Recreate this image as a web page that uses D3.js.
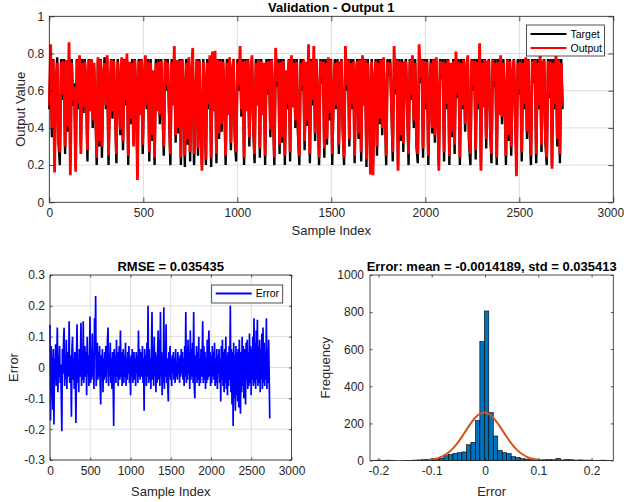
<!DOCTYPE html>
<html><head><meta charset="utf-8">
<script src="https://cdn.jsdelivr.net/npm/d3@7"></script>
<style>
html,body{margin:0;padding:0;background:#fff;}
svg{display:block;font-family:"Liberation Sans",Arial,Helvetica,sans-serif;}
</style></head><body>
<svg id="chart" width="624" height="502"></svg>
<script>
// ---- data (every 7th sample) ----
const sampleStep = 7;
const target = [0.50,0.77,0.35,0.77,0.22,0.60,0.78,0.32,0.20,0.77,
0.55,0.77,0.26,0.70,0.38,0.78,0.21,0.77,0.52,0.64,
0.20,0.77,0.50,0.77,0.30,0.77,0.48,0.77,0.60,0.22,
0.77,0.50,0.77,0.40,0.72,0.55,0.20,0.77,0.30,0.77,
0.24,0.66,0.78,0.50,0.77,0.20,0.58,0.77,0.45,0.77,
0.50,0.21,0.77,0.62,0.36,0.77,0.28,0.77,0.52,0.77,
0.20,0.70,0.42,0.77,0.36,0.77,0.55,0.19,0.77,0.50,
0.77,0.26,0.64,0.77,0.50,0.77,0.22,0.77,0.33,0.68,
0.20,0.77,0.52,0.77,0.42,0.77,0.50,0.25,0.77,0.60,
0.77,0.48,0.20,0.77,0.55,0.77,0.32,0.72,0.37,0.77,
0.20,0.77,0.58,0.19,0.77,0.31,0.77,0.22,0.66,0.77,
0.20,0.50,0.77,0.25,0.77,0.40,0.20,0.77,0.62,0.20,
0.77,0.50,0.77,0.19,0.70,0.52,0.77,0.21,0.77,0.34,
0.77,0.38,0.77,0.55,0.20,0.77,0.50,0.77,0.28,0.68,
0.77,0.33,0.22,0.77,0.60,0.77,0.46,0.77,0.20,0.77,
0.52,0.77,0.30,0.66,0.77,0.39,0.21,0.77,0.55,0.77,
0.24,0.77,0.50,0.72,0.20,0.77,0.58,0.77,0.35,0.77,
0.50,0.20,0.77,0.62,0.77,0.26,0.77,0.32,0.77,0.20,
0.68,0.50,0.77,0.22,0.77,0.54,0.77,0.40,0.77,0.36,
0.20,0.77,0.60,0.77,0.28,0.70,0.41,0.77,0.21,0.77,
0.52,0.77,0.33,0.77,0.50,0.20,0.77,0.64,0.77,0.24,
0.77,0.31,0.77,0.44,0.77,0.20,0.56,0.77,0.50,0.77,
0.26,0.72,0.77,0.38,0.20,0.77,0.60,0.77,0.30,0.77,
0.50,0.77,0.21,0.66,0.77,0.34,0.77,0.22,0.77,0.55,
0.77,0.19,0.77,0.50,0.20,0.77,0.20,0.62,0.77,0.25,
0.77,0.42,0.77,0.36,0.77,0.52,0.20,0.77,0.68,0.77,
0.50,0.22,0.77,0.58,0.77,0.20,0.77,0.33,0.77,0.27,
0.70,0.77,0.50,0.20,0.77,0.55,0.77,0.40,0.77,0.30,
0.21,0.77,0.64,0.77,0.24,0.77,0.50,0.77,0.20,0.60,
0.77,0.37,0.77,0.32,0.77,0.52,0.20,0.77,0.66,0.77,
0.22,0.77,0.50,0.77,0.20,0.72,0.35,0.77,0.26,0.77,
0.56,0.77,0.20,0.77,0.50,0.77,0.38,0.68,0.77,0.31,
0.20,0.77,0.60,0.77,0.23,0.77,0.50,0.77,0.20,0.77,
0.54,0.77,0.29,0.70,0.77,0.39,0.21,0.77,0.62,0.77,
0.20,0.77,0.50,0.77,0.42,0.77,0.55,0.20,0.77,0.33,
0.77,0.25,0.66,0.77,0.50,0.20,0.77,0.58,0.77,0.22,
0.77,0.50,0.77,0.34,0.77,0.40,0.20,0.77,0.64,0.77,
0.21,0.77,0.50,0.77,0.27,0.72,0.77,0.32,0.20,0.77,
0.56,0.77,0.20,0.77,0.50,0.77,0.30,0.77,0.21,0.77,
0.50];
const output = [0.52,0.85,0.40,0.765,0.16,0.63,0.75,0.36,0.27,0.755,
0.58,0.76,0.30,0.765,0.41,0.86,0.145,0.75,0.55,0.62,
0.165,0.765,0.53,0.79,0.26,0.75,0.51,0.755,0.63,0.28,
0.765,0.49,0.77,0.44,0.75,0.52,0.24,0.78,0.33,0.765,
0.30,0.69,0.75,0.52,0.79,0.25,0.55,0.765,0.49,0.76,
0.51,0.26,0.755,0.65,0.39,0.78,0.33,0.765,0.55,0.80,
0.25,0.755,0.45,0.75,0.30,0.765,0.58,0.12,0.76,0.47,
0.765,0.31,0.67,0.79,0.52,0.755,0.27,0.75,0.36,0.71,
0.24,0.75,0.49,0.755,0.47,0.76,0.53,0.30,0.765,0.63,
0.75,0.51,0.26,0.755,0.52,0.84,0.36,0.765,0.40,0.76,
0.24,0.765,0.61,0.25,0.75,0.34,0.78,0.27,0.69,0.83,
0.26,0.53,0.765,0.29,0.76,0.43,0.17,0.755,0.65,0.23,
0.75,0.53,0.79,0.24,0.81,0.49,0.815,0.26,0.765,0.37,
0.76,0.42,0.755,0.58,0.25,0.75,0.47,0.78,0.32,0.71,
0.765,0.36,0.27,0.75,0.63,0.84,0.50,0.755,0.24,0.76,
0.49,0.765,0.35,0.69,0.79,0.42,0.26,0.75,0.52,0.765,
0.29,0.76,0.47,0.75,0.25,0.755,0.61,0.76,0.39,0.765,
0.53,0.24,0.83,0.65,0.75,0.31,0.755,0.35,0.76,0.25,
0.71,0.53,0.765,0.27,0.79,0.51,0.75,0.44,0.755,0.39,
0.25,0.75,0.63,0.765,0.33,0.755,0.44,0.85,0.26,0.76,
0.55,0.84,0.37,0.765,0.53,0.24,0.76,0.67,0.755,0.29,
0.75,0.34,0.78,0.48,0.765,0.26,0.59,0.75,0.52,0.755,
0.31,0.75,0.76,0.41,0.24,0.84,0.63,0.765,0.34,0.75,
0.53,0.755,0.25,0.69,0.76,0.37,0.765,0.27,0.79,0.52,
0.765,0.23,0.75,0.53,0.15,0.755,0.145,0.65,0.76,0.30,
0.75,0.45,0.765,0.40,0.78,0.55,0.25,0.755,0.71,0.75,
0.53,0.27,0.84,0.61,0.765,0.17,0.76,0.36,0.755,0.32,
0.755,0.75,0.52,0.26,0.765,0.58,0.79,0.44,0.75,0.33,
0.26,0.85,0.67,0.765,0.29,0.76,0.53,0.755,0.25,0.63,
0.75,0.40,0.765,0.36,0.78,0.55,0.17,0.76,0.69,0.755,
0.27,0.75,0.53,0.765,0.25,0.75,0.38,0.76,0.31,0.81,
0.59,0.755,0.24,0.75,0.52,0.765,0.42,0.71,0.79,0.34,
0.26,0.765,0.63,0.76,0.28,0.755,0.53,0.855,0.17,0.75,
0.51,0.765,0.34,0.755,0.76,0.42,0.26,0.765,0.65,0.75,
0.24,0.755,0.47,0.79,0.46,0.75,0.58,0.25,0.765,0.36,
0.76,0.30,0.69,0.765,0.48,0.14,0.75,0.61,0.755,0.27,
0.75,0.53,0.78,0.38,0.765,0.43,0.25,0.76,0.67,0.765,
0.26,0.75,0.52,0.82,0.31,0.75,0.765,0.35,0.24,0.76,
0.59,0.755,0.18,0.75,0.53,0.81,0.34,0.765,0.26,0.75,
0.52];
const errorVals = [0.139,-0.172,0.07,0.02,-0.05,-0.137,0.06,-0.185,0.03,-0.04,
0.075,-0.06,0.02,0.13,-0.08,0.04,-0.03,0.07,-0.05,0.01,
-0.09,-0.207,0.06,-0.02,0.08,0.129,-0.06,0.03,-0.04,0.09,
-0.07,0.02,0.05,-0.03,0.15,-0.05,0.04,-0.02,-0.16,0.06,
0.1,-0.04,0.03,-0.07,0.05,-0.02,-0.18,0.04,0.14,-0.05,
0.02,-0.08,0.06,-0.03,0.04,0.145,-0.06,0.03,-0.04,0.15,
-0.05,0.02,0.07,-0.03,0.05,-0.09,0.1,-0.02,0.04,-0.06,
0.03,0.165,-0.05,0.06,-0.04,0.11,-0.03,0.05,-0.07,0.16,
0.04,0.232,-0.06,0.02,0.08,-0.04,0.05,-0.03,0.07,-0.05,
-0.12,0.04,-0.02,0.06,-0.08,0.03,-0.04,0.05,-0.03,0.07,
-0.05,0.02,0.09,0.13,-0.06,0.04,-0.03,0.08,-0.05,0.03,
-0.07,0.05,-0.04,-0.19,0.06,-0.02,0.04,-0.05,0.09,-0.03,
0.05,-0.06,0.03,0.07,-0.04,0.12,-0.03,0.05,-0.06,0.02,
0.06,-0.05,0.04,-0.03,0.08,-0.06,0.03,-0.04,0.05,-0.02,
0.07,-0.05,0.03,-0.09,0.04,-0.03,0.06,-0.05,0.02,0.05,
-0.04,0.03,-0.06,0.05,-0.02,0.04,-0.05,0.12,-0.03,0.06,
-0.04,0.02,0.05,-0.03,0.07,-0.05,0.03,-0.14,0.06,-0.02,
0.04,-0.06,0.08,-0.03,0.2,-0.05,0.06,-0.04,0.03,-0.07,
0.05,0.18,-0.04,0.07,-0.06,0.1,-0.03,0.05,-0.08,0.04,
-0.05,0.06,0.12,-0.04,0.09,-0.06,0.18,-0.03,0.05,-0.09,
0.04,-0.05,0.195,-0.07,0.06,-0.03,0.14,-0.05,0.03,-0.06,
-0.11,0.05,-0.03,0.07,-0.04,0.03,-0.06,0.04,-0.02,0.05,
-0.04,0.03,-0.05,0.06,-0.03,0.02,-0.04,0.05,-0.02,0.03,
-0.05,0.04,-0.03,0.06,-0.02,0.05,-0.04,0.03,-0.06,0.07,
-0.03,0.18,-0.05,0.06,-0.04,0.09,-0.02,0.05,-0.07,0.12,
-0.04,0.06,-0.03,0.08,-0.05,0.18,-0.06,-0.1,0.04,-0.03,
0.07,-0.05,0.05,-0.04,0.1,-0.06,0.03,-0.05,0.06,-0.03,
0.04,0.15,-0.05,0.07,-0.04,0.05,-0.07,0.03,-0.05,0.09,
-0.04,0.06,0.12,-0.03,0.05,-0.06,0.04,-0.05,0.07,-0.03,
0.05,-0.04,0.08,-0.06,0.03,-0.05,0.06,-0.07,0.04,-0.02,
0.06,-0.05,0.03,-0.11,0.07,-0.04,0.09,-0.06,0.05,-0.08,
0.06,-0.05,0.1,-0.07,0.04,-0.09,0.05,-0.06,0.07,-0.04,
0.2,-0.08,0.06,-0.12,0.05,-0.19,0.08,-0.1,0.04,-0.14,
0.07,-0.09,0.05,-0.11,0.06,-0.13,0.09,-0.07,-0.15,0.05,
-0.08,0.1,-0.06,0.07,-0.1,0.06,-0.05,-0.12,0.08,-0.04,
0.09,-0.07,0.05,-0.06,0.11,-0.05,0.07,-0.09,0.06,-0.04,
0.1,-0.06,0.16,-0.05,0.08,-0.07,0.12,-0.04,0.155,-0.06,
0.07,-0.05,0.09,-0.08,0.06,-0.04,0.11,-0.07,0.13,-0.05,
0.08,-0.06,0.05,-0.04,0.16,-0.07,0.06,-0.05,0.09,-0.03,
-0.165];

// histogram of the error
const histStart = -0.2113;
const histBinWidth = 0.0084;
const histCounts = [1,2,1,2,1,0,0,1,1,2,
3,4,6,8,10,13,26,33,39,42,
46,85,98,215,641,806,258,132,55,42,
37,21,17,10,8,4,3,3,4,5,
4,12,3,5,4,2,3,2,2,1,
1,2,1];
// fitted normal curve
const fitX = [-0.107,-0.10,-0.09,-0.08,-0.07,-0.06,-0.05,-0.04,-0.03,-0.02,-0.01,0,0.01,0.02,0.03,0.04,0.05,0.06,0.07,0.08,0.09,0.10,0.104];
const fitY = [3.0,5.3,11.3,22.0,39.5,65.6,100.6,142.6,186.4,225.0,250.8,258.2,245.3,215.1,174.3,130.4,90.0,57.4,33.8,18.4,9.2,4.3,3.1];

// tick values and texts
const topXTicks = [0,500,1000,1500,2000,2500,3000];
const topYTicks = [0,0.2,0.4,0.6,0.8,1];
const errYTicks = [-0.3,-0.2,-0.1,0,0.1,0.2,0.3];
const histXTicks = [-0.2,-0.1,0,0.1,0.2];
const histYTicks = [0,200,400,600,800,1000];
const titles = ["Validation - Output 1","RMSE = 0.035435","Error: mean = -0.0014189, std = 0.035413"];
const legendTop = ["Target","Output"];
const legendErr = ["Error"];

// ---- drawing ----
const svg = d3.select('#chart');
const AX = '#262626', GRID = '#dedede';
const fmt = d => String(+(+d).toFixed(4));

function makeAxes(c){
  const g = svg.append('g');
  const x = d3.scaleLinear().domain(c.xDomain).range([c.left, c.right]);
  const y = d3.scaleLinear().domain(c.yDomain).range([c.bottom, c.top]);
  if (c.grid){
    g.append('g').selectAll('line').data(c.xTicks).join('line')
      .attr('x1', d => x(d)).attr('x2', d => x(d)).attr('y1', c.top).attr('y2', c.bottom)
      .attr('stroke', GRID).attr('stroke-width', 1);
    g.append('g').selectAll('line').data(c.yTicks).join('line')
      .attr('y1', d => y(d)).attr('y2', d => y(d)).attr('x1', c.left).attr('x2', c.right)
      .attr('stroke', GRID).attr('stroke-width', 1);
  }
  const plot = g.append('g');
  return {g, x, y, plot, c};
}
function finishAxes(a){
  const {g, x, y, c} = a;
  const tl = c.tickLen;
  const style = sel => {
    sel.select('.domain').remove();
    sel.selectAll('.tick line').attr('stroke', AX).attr('stroke-width', 0.8);
    sel.selectAll('.tick text').attr('fill', AX).style('font-size', '12px')
      .style('font-family', '"Liberation Sans",Arial,sans-serif');
  };
  const bx = g.append('g').attr('transform', `translate(0,${c.bottom})`)
    .call(d3.axisBottom(x).tickValues(c.xTicks).tickFormat(fmt).tickSizeInner(-tl).tickSizeOuter(0).tickPadding(6)).call(style);
  if (c.lastLabelShift) bx.selectAll('.tick text').filter((d, i, n) => i === n.length - 1).attr('dx', c.lastLabelShift);
  g.append('g').attr('transform', `translate(0,${c.top})`)
    .call(d3.axisTop(x).tickValues(c.xTicks).tickFormat(() => '').tickSizeInner(-tl).tickSizeOuter(0)).call(style);
  g.append('g').attr('transform', `translate(${c.left},0)`)
    .call(d3.axisLeft(y).tickValues(c.yTicks).tickFormat(fmt).tickSizeInner(-tl).tickSizeOuter(0).tickPadding(c.yPad || 5)).call(style);
  g.append('g').attr('transform', `translate(${c.right},0)`)
    .call(d3.axisRight(y).tickValues(c.yTicks).tickFormat(() => '').tickSizeInner(-tl).tickSizeOuter(0)).call(style);
  g.append('rect').attr('x', c.left).attr('y', c.top)
    .attr('width', c.right - c.left).attr('height', c.bottom - c.top)
    .attr('fill', 'none').attr('stroke', AX).attr('stroke-width', 0.8);
  g.append('text').attr('x', (c.left + c.right) / 2).attr('y', c.titleY)
    .attr('text-anchor', 'middle').style('font-size', '13px').style('font-weight', 'bold')
    .attr('fill', '#000').text(c.title);
  g.append('text').attr('x', (c.left + c.right) / 2).attr('y', c.xLabelY)
    .attr('text-anchor', 'middle').style('font-size', '13px').attr('fill', AX).text(c.xLabel);
  g.append('text').attr('transform', `translate(${c.yLabelX},${(c.top + c.bottom) / 2}) rotate(-90)`)
    .attr('text-anchor', 'middle').attr('dy', '0.35em').style('font-size', '13px').attr('fill', AX).text(c.yLabel);
}
function legend(a, items, box){
  const g = a.g.append('g');
  g.append('rect').attr('x', box.x).attr('y', box.y).attr('width', box.w).attr('height', box.h)
    .attr('fill', '#fff').attr('stroke', AX).attr('stroke-width', 0.8);
  items.forEach((it, i) => {
    const yy = box.y + box.first + i * box.step;
    g.append('line').attr('x1', box.x + 4).attr('x2', box.x + 4 + box.lineLen)
      .attr('y1', yy).attr('y2', yy).attr('stroke', it.color).attr('stroke-width', 2);
    g.append('text').attr('x', box.x + 8 + box.lineLen).attr('y', yy).attr('dy', '0.35em')
      .style('font-size', '10.5px').attr('fill', '#000').text(it.label);
  });
}

// ---- top: target vs output ----
const A = makeAxes({left: 49.3, right: 613.3, top: 16.3, bottom: 202.3,
  xDomain: [0, 3000], yDomain: [0, 1], xTicks: topXTicks, yTicks: topYTicks, grid: true, tickLen: 5,
  title: titles[0], titleY: 12, xLabel: 'Sample Index', xLabelY: 235, yLabel: 'Output Value', yLabelX: 20,
  lastLabelShift: -3});
const lineTop = d3.line().x((d, i) => A.x(i * sampleStep)).y(d => A.y(d));
A.plot.append('path').datum(target).attr('d', lineTop).attr('fill', 'none')
  .attr('stroke', '#000').attr('stroke-width', 2.4).attr('stroke-linejoin', 'bevel');
A.plot.append('path').datum(output).attr('d', lineTop).attr('fill', 'none')
  .attr('stroke', '#ff0000').attr('stroke-width', 2.8).attr('stroke-linejoin', 'bevel');
finishAxes(A);
legend(A, [{label: legendTop[0], color: '#000'}, {label: legendTop[1], color: '#ff0000'}],
  {x: 526.5, y: 25, w: 78, h: 31, first: 9, step: 14, lineLen: 36});

// ---- bottom left: error over samples ----
const B = makeAxes({left: 50, right: 291.5, top: 275, bottom: 460,
  xDomain: [0, 3000], yDomain: [-0.3, 0.3], xTicks: topXTicks, yTicks: errYTicks, grid: true, tickLen: 2.5,
  title: titles[1], titleY: 271, xLabel: 'Sample Index', xLabelY: 496, yLabel: 'Error', yLabelX: 13});
const lineErr = d3.line().x((d, i) => B.x(i * sampleStep)).y(d => B.y(d));
B.plot.append('path').datum(errorVals).attr('d', lineErr).attr('fill', 'none')
  .attr('stroke', '#0000ff').attr('stroke-width', 1.7).attr('stroke-linejoin', 'bevel');
finishAxes(B);
legend(B, [{label: legendErr[0], color: '#0000ff'}], {x: 211.7, y: 285, w: 71, h: 18, first: 8.5, step: 14, lineLen: 36});

// ---- bottom right: histogram ----
const C = makeAxes({left: 370, right: 613.3, top: 275, bottom: 460.5,
  xDomain: [-0.2158, 0.2407], yDomain: [0, 1000], xTicks: histXTicks, yTicks: histYTicks, grid: false, tickLen: 2.5,
  title: titles[2], titleY: 271, xLabel: 'Error', xLabelY: 496, yLabel: 'Frequency', yLabelX: 325, yPad: 6});
C.plot.selectAll('rect').data(histCounts).join('rect')
  .attr('x', (d, i) => C.x(histStart + i * histBinWidth))
  .attr('width', (d, i) => C.x(histStart + (i + 1) * histBinWidth) - C.x(histStart + i * histBinWidth))
  .attr('y', d => C.y(d)).attr('height', d => C.y(0) - C.y(d))
  .attr('fill', '#0072bd').attr('stroke', '#000').attr('stroke-width', 0.6);
const fitLine = d3.line().x((d, i) => C.x(fitX[i])).y(d => C.y(d)).curve(d3.curveCatmullRom);
C.plot.append('path').datum(fitY).attr('d', fitLine).attr('fill', 'none')
  .attr('stroke', '#d95319').attr('stroke-width', 2);
finishAxes(C);
</script>
</body></html>
